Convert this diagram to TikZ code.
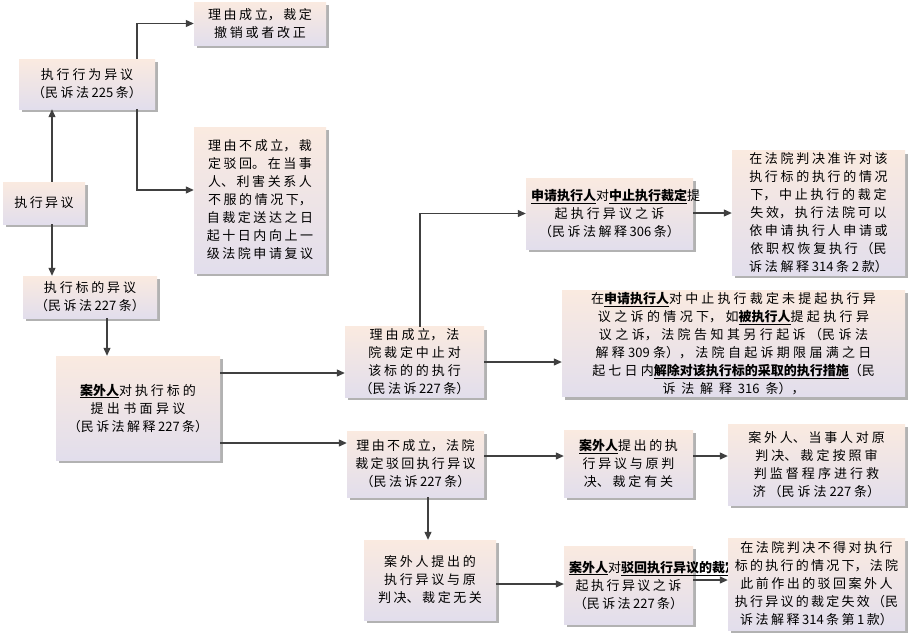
\documentclass[tikz,border=0pt]{standalone}
\usepackage{fontspec}
\setmainfont{Noto Sans CJK SC}
\XeTeXlinebreaklocale "zh"
\XeTeXlinebreakskip=2.2pt plus 1pt
\usetikzlibrary{shadows,calc,arrows.meta}
\definecolor{topc}{RGB}{250,234,224}
\definecolor{botc}{RGB}{226,222,236}
\newcommand{\ul}[1]{\underline{\textbf{#1}}}
\tikzset{
  bx/.style={rectangle, top color=topc, bottom color=botc, draw=none,
    drop shadow={shadow xshift=3pt, shadow yshift=-3pt, fill=black!30, opacity=1},
    align=center, font=\fontsize{13}{18}\selectfont, inner sep=2pt},
  arr/.style={draw=black!75, line width=1.1pt, -{Triangle[length=8pt,width=7pt]}}
}
\newcommand{\bx}[6]{%
  \node[bx, minimum width={#4pt-#2pt}, minimum height={#5pt-#3pt}, text width={#4pt-#2pt-10pt}]
    (#1) at ({(#2+#4)/2},{(#3+#5)/2}) {#6};}
\begin{document}
\begin{tikzpicture}[x=1pt,y=-1pt]
\useasboundingbox[fill=white] (0,0) rectangle (917,635);
\bx{a}{3}{182}{85}{224}{执行异议}
\bx{b}{19}{59}{155}{109}{执行行为异议\\（民诉法225条）}
\bx{c}{194}{2}{326}{45}{理由成立，裁定\\撤销或者改正}
\bx{d}{194}{127}{326}{273}{理由不成立，裁定驳回。在当事人、利害关系人不服的情况下，自裁定送达之日起十日内向上一级法院申请复议}
\bx{e}{23}{276}{157}{318}{执行标的异议\\（民诉法227条）}
\bx{f}{56}{356}{220}{460}{\ul{案外人}对执行标的提出书面异议\\（民诉法解释227条）}
\bx{g}{345}{329}{484}{395}{理由成立，法院裁定中止对该标的的执行\\（民法诉227条）}
\bx{h}{526}{178}{693}{249}{\ul{申请执行人}对\ul{中止执行裁定}提起执行异议之诉\\（民诉法解释306条）}
\bx{i}{732}{156}{905}{270}{在法院判决准许对该执行标的执行的情况下，中止执行的裁定失效，执行法院可以依申请执行人申请或依职权恢复执行（民诉法解释314条2款）}
\bx{j}{562}{292}{905}{395}{在\ul{申请执行人}对中止执行裁定未提起执行异议之诉的情况下，如\ul{被执行人}提起执行异议之诉，法院告知其另行起诉（民诉法解释309条），法院自起诉期限届满之日起七日内\ul{解除对该执行标的采取的执行措施}（民诉法解释316条），}
\bx{k}{347}{431}{484}{497}{理由不成立，法院裁定驳回执行异议\\（民法诉227条）}
\bx{l}{564}{430}{693}{497}{\ul{案外人}提出的执行异议与原判决、裁定有关}
\bx{m}{728}{424}{905}{505}{案外人、当事人对原判决、裁定按照审判监督程序进行救济（民诉法227条）}
\bx{n}{364}{540}{496}{620}{案外人提出的执行异议与原判决、裁定无关}
\bx{o}{564}{546}{693}{624}{\ul{案外人}对\ul{驳回执行异议的裁定}提起执行异议之诉（民诉法227条）}
\bx{p}{728}{538}{905}{630}{在法院判决不得对执行标的执行的情况下，法院此前作出的驳回案外人执行异议的裁定失效（民诉法解释314条第1款）}
\draw[arr] (a.north -| 52,0) -- (b.south -| 52,0);
\draw[arr] (a.south -| 52,0) -- (e.north -| 52,0);
\draw[arr] (b.north -| 137,0) |- (c.west);
\draw[arr] (b.south -| 137,0) |- (d.west |- 0,190);
\draw[arr] (e.south -| 107,0) -- (f.north -| 107,0);
\draw[arr] (f.east |- 0,373) -- (g.west |- 0,373);
\draw[arr] (f.east |- 0,443) -- (k.west |- 0,443);
\draw[arr] (g.north -| 420,0) |- (h.west);
\draw[arr] (g.east) -- (j.west |- g.east);
\draw[arr] (h.east |- 0,213) -- (i.west |- 0,213);
\draw[arr] (k.east |- 0,456) -- (l.west |- 0,456);
\draw[arr] (l.east |- 0,456) -- (m.west |- 0,456);
\draw[arr] (k.south -| 428,0) -- (n.north -| 428,0);
\draw[arr] (n.east |- 0,584) -- (o.west |- 0,584);
\draw[arr] (o.east |- 0,580) -- (p.west |- 0,580);
\end{tikzpicture}
\end{document}
